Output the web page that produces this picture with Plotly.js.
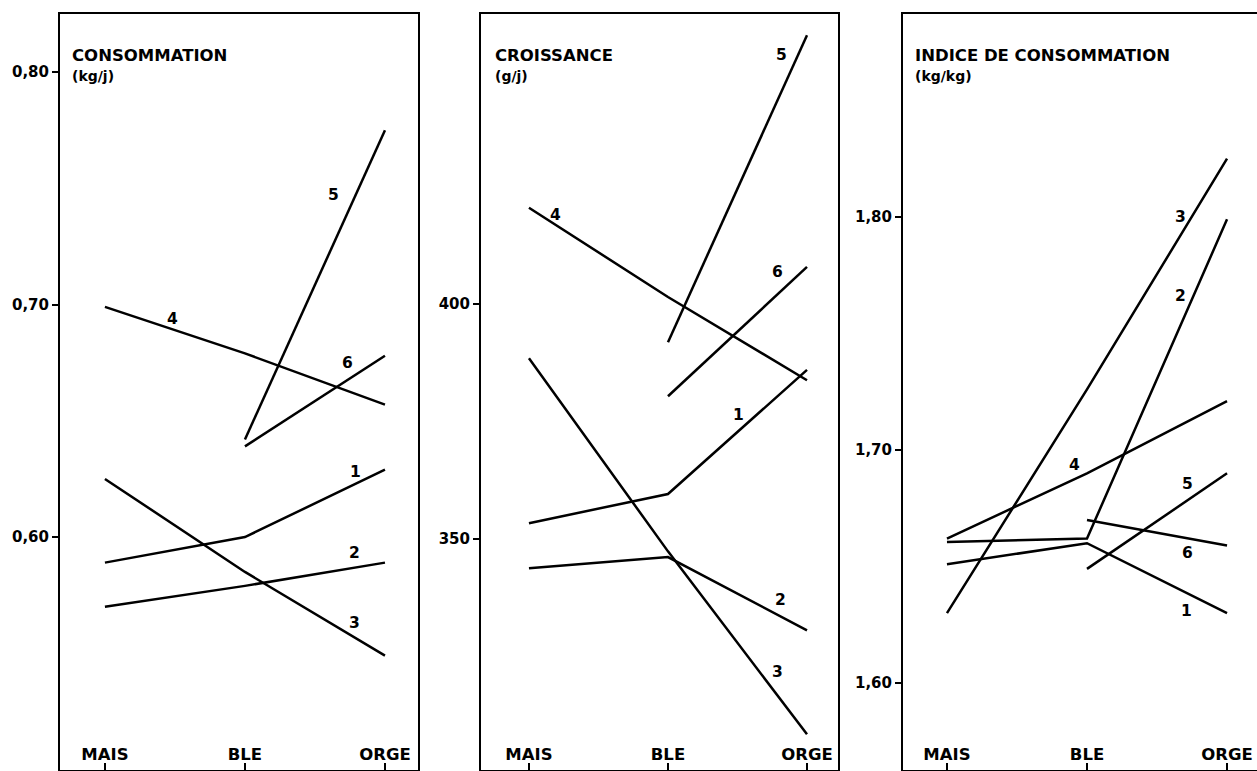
<!DOCTYPE html>
<html>
<head>
<meta charset="utf-8">
<script src="https://cdn.plot.ly/plotly-3.0.1.min.js"></script>
<style>html,body{margin:0;padding:0;background:#fff;}#chart{width:1257px;height:771px;}</style>
</head>
<body>
<div id="chart"></div>
<script>
// Categories
const categories = ['MAIS', 'BLE', 'ORGE'];
const seriesNames = ['1', '2', '3', '4', '5', '6'];

// Panel 1 : CONSOMMATION (kg/j)
const cons1 = [0.589, 0.600, 0.629];
const cons2 = [0.570, 0.579, 0.589];
const cons3 = [0.625, 0.585, 0.549];
const cons4 = [0.699, 0.679, 0.657];
const cons5 = [null, 0.642, 0.775];
const cons6 = [null, 0.639, 0.678];

// Panel 2 : CROISSANCE (g/j)
const croi1 = [353.4, 359.6, 386.0];
const croi2 = [343.8, 346.2, 330.6];
const croi3 = [388.5, 347.4, 308.5];
const croi4 = [420.5, 401.5, 383.8];
const croi5 = [null, 391.9, 457.2];
const croi6 = [null, 380.4, 407.9];

// Panel 3 : INDICE DE CONSOMMATION (kg/kg)
const ind1 = [1.651, 1.660, 1.630];
const ind2 = [1.6605, 1.662, 1.799];
const ind3 = [1.630, 1.726, 1.825];
const ind4 = [1.662, 1.690, 1.721];
const ind5 = [null, 1.649, 1.690];
const ind6 = [null, 1.670, 1.659];

// Tick labels
const consTickVals = [0.60, 0.70, 0.80];
const consTickText = ['0,60', '0,70', '0,80'];
const croiTickVals = [350, 400];
const croiTickText = ['350', '400'];
const indTickVals = [1.60, 1.70, 1.80];
const indTickText = ['1,60', '1,70', '1,80'];

// Panel titles
const panelTitles = ['CONSOMMATION', 'CROISSANCE', 'INDICE DE CONSOMMATION'];
const panelUnits = ['(kg/j)', '(g/j)', '(kg/kg)'];

// Series label placement (category index, value) per panel
const consLabelX = [1.79, 1.78, 1.78, 0.48, 1.63, 1.73];
const consLabelY = [0.628, 0.593, 0.563, 0.694, 0.747, 0.675];
const croiLabelX = [1.51, 1.81, 1.79, 0.19, 1.82, 1.79];
const croiLabelY = [376.4, 337.0, 321.7, 418.9, 453.0, 406.8];
const indLabelX = [1.71, 1.67, 1.67, 0.91, 1.72, 1.72];
const indLabelY = [1.631, 1.766, 1.800, 1.6936, 1.6854, 1.6558];

const FONT = 'DejaVu Sans, Arial, sans-serif';
const W = 1257, H = 771;

const panels = [
  {ax: '', series: [cons1, cons2, cons3, cons4, cons5, cons6], lx: consLabelX, ly: consLabelY},
  {ax: '2', series: [croi1, croi2, croi3, croi4, croi5, croi6], lx: croiLabelX, ly: croiLabelY},
  {ax: '3', series: [ind1, ind2, ind3, ind4, ind5, ind6], lx: indLabelX, ly: indLabelY}
];

const traces = [];
const annotations = [];
panels.forEach(p => {
  p.series.forEach((vals, i) => {
    traces.push({
      type: 'scatter', mode: 'lines', x: categories, y: vals,
      name: seriesNames[i], xaxis: 'x' + p.ax, yaxis: 'y' + p.ax,
      line: {color: '#000', width: 2.5}, connectgaps: false,
      hoverinfo: 'skip'
    });
    annotations.push({
      xref: 'x' + p.ax, yref: 'y' + p.ax, x: p.lx[i], y: p.ly[i],
      text: seriesNames[i], showarrow: false,
      font: {family: FONT, size: 15.5, color: '#000', weight: 'bold'}
    });
  });
});

const titleX = [70, 493, 913];
panelTitles.forEach((t, i) => {
  annotations.push({
    xref: 'paper', yref: 'paper', x: titleX[i] / W, y: 1 - 42 / H,
    xanchor: 'left', yanchor: 'middle', text: t, showarrow: false,
    font: {family: FONT, size: 16.5, color: '#000', weight: 'bold'}
  });
  annotations.push({
    xref: 'paper', yref: 'paper', x: titleX[i] / W, y: 1 - 63 / H,
    xanchor: 'left', yanchor: 'middle', text: panelUnits[i], showarrow: false,
    font: {family: FONT, size: 14, color: '#000', weight: 'bold'}
  });
});

function xAxis(domain, range, mirror) {
  return {
    domain: domain, range: range, type: 'category',
    categoryorder: 'array', categoryarray: categories,
    showgrid: false, zeroline: false,
    showline: true, linecolor: '#000', linewidth: 2, mirror: mirror,
    ticks: 'inside', ticklen: 7, tickwidth: 2, tickcolor: '#000',
    ticklabelposition: 'inside',
    tickfont: {family: FONT, size: 16.5, color: '#000', weight: 'bold'},
    fixedrange: true
  };
}
function yAxis(anchor, range, vals, text, mirror) {
  return {
    anchor: anchor, domain: [0, 1], range: range,
    showgrid: false, zeroline: false,
    showline: true, linecolor: '#000', linewidth: 2, mirror: mirror,
    ticks: 'outside', ticklen: 6, tickwidth: 2, tickcolor: '#000',
    tickvals: vals, ticktext: text,
    tickfont: {family: FONT, size: 15, color: '#000', weight: 'bold'},
    fixedrange: true
  };
}

const layout = {
  width: W, height: H,
  margin: {l: 0, r: 0, t: 14, b: 1, pad: 0},
  paper_bgcolor: '#fff', plot_bgcolor: '#fff',
  showlegend: false,
  xaxis: Object.assign(xAxis([60 / W, 418 / W], [-0.321, 2.236], true), {anchor: 'y'}),
  yaxis: yAxis('x', [0.4998, 0.825], consTickVals, consTickText, true),
  xaxis2: Object.assign(xAxis([481 / W, 838 / W], [-0.345, 2.223], true), {anchor: 'y2'}),
  yaxis2: yAxis('x2', [300.9, 461.7], croiTickVals, croiTickText, true),
  xaxis3: Object.assign(xAxis([903 / W, 1], [-0.314, 2.214], true), {anchor: 'y3'}),
  yaxis3: yAxis('x3', [1.5627, 1.8871], indTickVals, indTickText, false),
  annotations: annotations
};

Plotly.newPlot('chart', traces, layout, {displayModeBar: false, staticPlot: true});
</script>
</body>
</html>
